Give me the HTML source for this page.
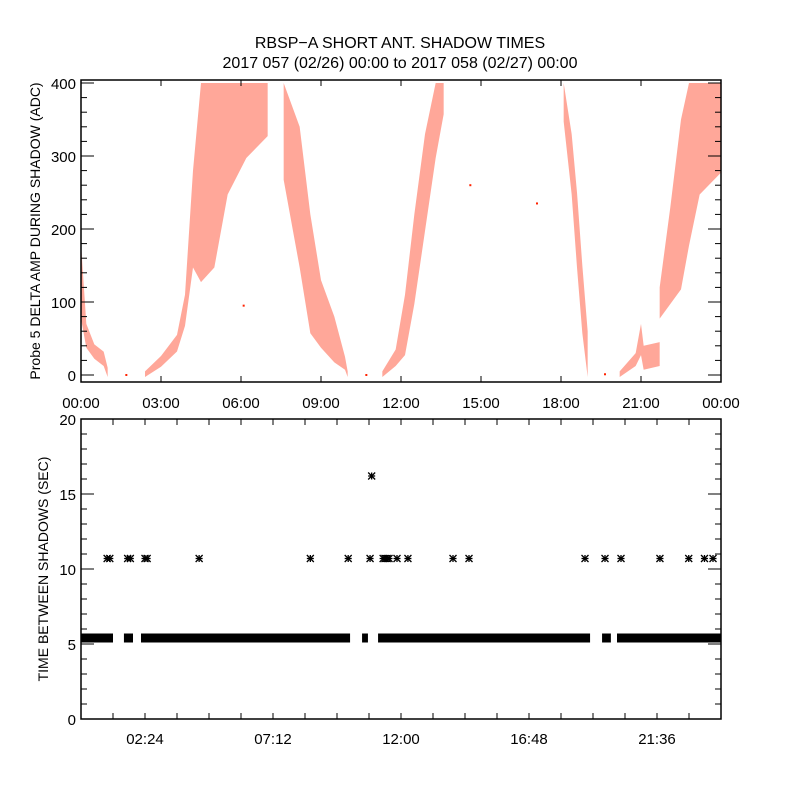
<!DOCTYPE html>
<html><head><meta charset="utf-8"><style>
body{margin:0;background:#fff}
svg{display:block;font-family:"Liberation Sans",sans-serif}
</style></head><body>
<svg id="c" width="800" height="800" viewBox="0 0 800 800">
<rect width="800" height="800" fill="#fff"/>
<text x="400" y="48" text-anchor="middle" font-size="16">RBSP−A SHORT ANT. SHADOW TIMES</text>
<text x="400" y="68" text-anchor="middle" font-size="16">2017 057 (02/26) 00:00 to 2017 058 (02/27) 00:00</text>
<g id="topPanel"></g>
<g id="botPanel"></g>
</svg>
<script>
// ---- Top panel data: bands of probe amplitude (hours, low ADC, high ADC)
const bandA_t=[0,0.2,0.5,0.85,1.0];
const bandA_lo=[80,40,25,15,0];
const bandA_hi=[180,70,42,32,10];
const bandB_t=[2.4,3.0,3.6,3.9,4.2,4.5,5.0,5.5,6.2,7.0];
const bandB_lo=[0,14,35,70,150,130,150,250,300,330];
const bandB_hi=[5,26,55,110,280,400,400,400,400,400];
const bandC_t=[7.6,8.2,8.6,9.0,9.5,9.9,10.0];
const bandC_lo=[270,150,60,40,20,10,0];
const bandC_hi=[400,340,220,130,80,25,5];
const bandD_t=[11.3,11.8,12.15,12.5,12.9,13.3,13.6];
const bandD_lo=[0,15,30,100,200,300,360];
const bandD_hi=[5,35,110,220,330,400,400];
const bandE_t=[18.1,18.4,18.6,18.8,19.0];
const bandE_lo=[350,250,150,60,0];
const bandE_hi=[400,330,250,150,60];
const bandF_t=[20.2,20.8,21.0,21.1,21.7];
const bandF_lo=[0,15,30,10,15];
const bandF_hi=[5,30,70,40,45];
const bandG_t=[21.7,22.1,22.5,22.8,23.2,24];
const bandG_lo=[80,100,120,180,250,280];
const bandG_hi=[120,230,350,400,400,400];
const isoTimes=[1.7,10.7,19.65,14.6,17.1,6.1];
const isoVals=[0,0,1,260,235,95];
// ---- Bottom panel data
const gapSegStart=[0,1.61,2.25,10.54,11.14,19.54,20.1];
const gapSegEnd=[1.2,1.95,10.09,10.76,19.09,19.87,24];
const baseVal=5.4;
const starTimes=[0.98,1.08,1.75,1.85,2.4,2.48,4.43,8.6,10.02,10.84,10.9,11.33,11.4,11.48,11.55,11.85,12.26,13.95,14.55,18.9,19.65,20.25,21.71,22.79,23.38,23.7];
const starVals=[10.7,10.7,10.7,10.7,10.7,10.7,10.7,10.7,10.7,10.7,16.2,10.7,10.7,10.7,10.7,10.7,10.7,10.7,10.7,10.7,10.7,10.7,10.7,10.7,10.7,10.7];
const topYTicks=[0,100,200,300,400];
const topXLabels=["00:00","03:00","06:00","09:00","12:00","15:00","18:00","21:00","00:00"];
const botYTicks=[0,5,10,15,20];
const botXLabels=["02:24","07:12","12:00","16:48","21:36"];

const NS="http://www.w3.org/2000/svg";
function mk(tag,attrs,parent){const e=document.createElementNS(NS,tag);for(const k in attrs)e.setAttribute(k,attrs[k]);parent.appendChild(e);return e;}
const X0=81,X1=721;
const xs=h=>X0+h/24*(X1-X0);
const TY0=375,TYk=0.73;
const ty=v=>TY0-v*TYk;
const BY0=719,BY1=419;
const by=v=>BY0-v/20*(BY0-BY1);
const topG=document.getElementById('topPanel'),botG=document.getElementById('botPanel');

const bands=[[bandA_t,bandA_lo,bandA_hi],[bandB_t,bandB_lo,bandB_hi],[bandC_t,bandC_lo,bandC_hi],[bandD_t,bandD_lo,bandD_hi],[bandE_t,bandE_lo,bandE_hi],[bandF_t,bandF_lo,bandF_hi],[bandG_t,bandG_lo,bandG_hi]];
bands.forEach((b,i)=>{
  const [t,lo,hi]=b;let pts=[];
  for(let j=0;j<t.length;j++)pts.push(xs(t[j])+','+ty(Math.min(hi[j],404)));
  for(let j=t.length-1;j>=0;j--)pts.push(xs(t[j])+','+(ty(lo[j])+2));
  const p=mk('polygon',{points:pts.join(' '),fill:'#ff2200','fill-opacity':'0.4'},topG);
  
  
});
isoTimes.forEach((t,i)=>{
  const r=mk('rect',{x:xs(t)-1,y:ty(isoVals[i])-1,width:2,height:2,fill:'#ff2200'},topG);
  
  
});
const tf=mk('rect',{x:X0,y:80,width:X1-X0,height:302,fill:'none',stroke:'#000','stroke-width':1.5},topG);


for(let v=0;v<=400;v+=20){
  const y=ty(v),L=(v%100===0)?13:6;
  mk('line',{x1:X0,x2:X0+L,y1:y,y2:y,stroke:'#000'},topG);
  mk('line',{x1:X1,x2:X1-L,y1:y,y2:y,stroke:'#000'},topG);
}
topYTicks.forEach(v=>{
  const t=mk('text',{x:76,y:ty(v)+6,'text-anchor':'end','font-size':15},topG);t.textContent=v;
  
  
});
topXLabels.forEach((s,i)=>{
  const x=xs(i*3);
  mk('line',{x1:x,x2:x,y1:382,y2:376,stroke:'#000'},topG);
  mk('line',{x1:x,x2:x,y1:80,y2:86,stroke:'#000'},topG);
  const t=mk('text',{x:x,y:408,'text-anchor':'middle','font-size':15},topG);t.textContent=s;
  
  
});
const tyt=mk('text',{transform:'translate(40,231) rotate(-90)','text-anchor':'middle','font-size':14},topG);
tyt.textContent='Probe 5 DELTA AMP DURING SHADOW (ADC)';



gapSegStart.forEach((s,i)=>{
  const r=mk('rect',{x:xs(s),y:by(baseVal)-4.5,width:xs(gapSegEnd[i])-xs(s),height:9,fill:'#000'},botG);
  
  
});
starTimes.forEach((t,i)=>{
  const cx=xs(t),cy=by(starVals[i]),r=3.5;
  const g=mk('g',{stroke:'#000','stroke-width':1.3},botG);
  
  
  mk('line',{x1:cx-r,x2:cx+r,y1:cy,y2:cy},g);
  mk('line',{x1:cx,x2:cx,y1:cy-r,y2:cy+r},g);
  mk('line',{x1:cx-r,x2:cx+r,y1:cy-r,y2:cy+r},g);
  mk('line',{x1:cx-r,x2:cx+r,y1:cy+r,y2:cy-r},g);
});
const bf=mk('rect',{x:X0,y:BY1,width:X1-X0,height:BY0-BY1,fill:'none',stroke:'#000','stroke-width':1.5},botG);


for(let v=0;v<=20;v++){
  const y=by(v),L=(v%5===0)?13:6;
  mk('line',{x1:X0,x2:X0+L,y1:y,y2:y,stroke:'#000'},botG);
  mk('line',{x1:X1,x2:X1-L,y1:y,y2:y,stroke:'#000'},botG);
}
botYTicks.forEach(v=>{
  const t=mk('text',{x:76,y:by(v)+6,'text-anchor':'end','font-size':15},botG);t.textContent=v;
  
  
});
for(let k=0;k<=20;k++){
  const x=xs(k*1.2);
  mk('line',{x1:x,x2:x,y1:BY0,y2:BY0-6,stroke:'#000'},botG);
  mk('line',{x1:x,x2:x,y1:BY1,y2:BY1+6,stroke:'#000'},botG);
}
botXLabels.forEach((s,i)=>{
  const t=mk('text',{x:xs(2.4+i*4.8),y:744,'text-anchor':'middle','font-size':15},botG);t.textContent=s;
  
  
});
const byt=mk('text',{transform:'translate(48,569) rotate(-90)','text-anchor':'middle','font-size':14},botG);
byt.textContent='TIME BETWEEN SHADOWS (SEC)';


</script>
</body></html>
